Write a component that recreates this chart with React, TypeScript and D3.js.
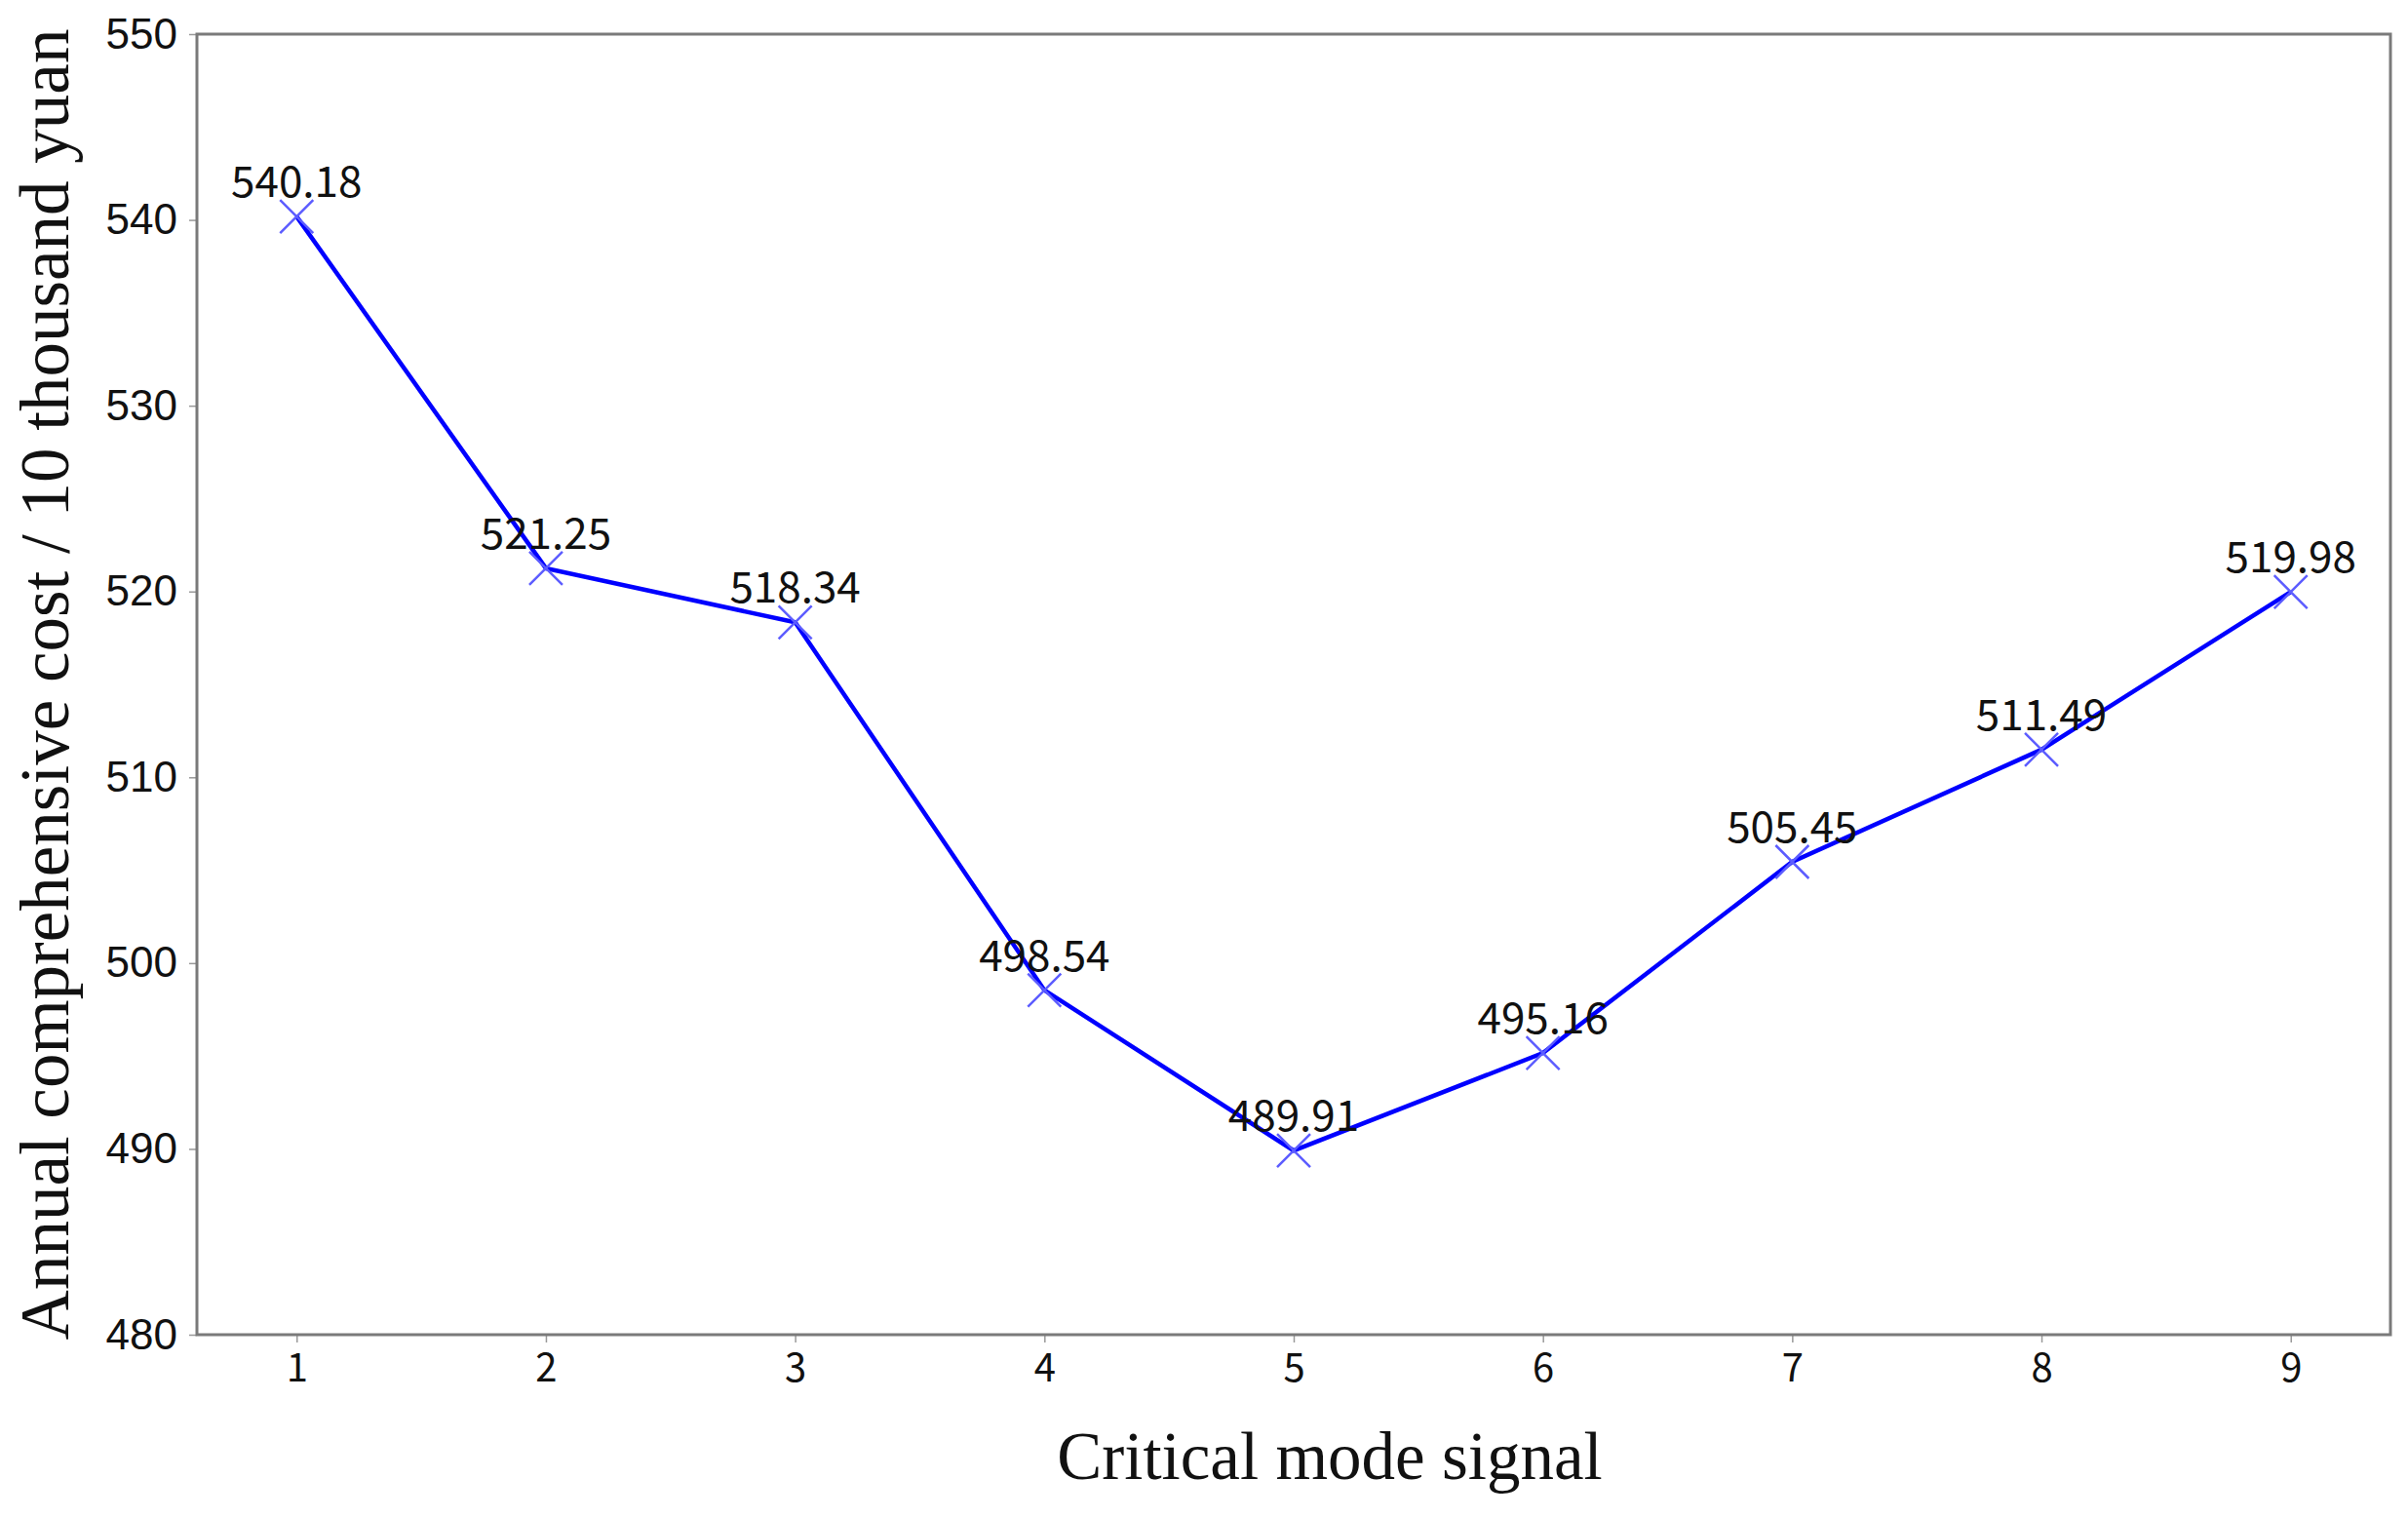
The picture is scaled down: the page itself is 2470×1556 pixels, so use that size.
import React, { useEffect, useRef } from "react";
import * as d3 from "d3";

// critical mode signal (x) and annual comprehensive cost in 10k yuan (y)
const modeSignals = [1, 2, 3, 4, 5, 6, 7, 8, 9];
const annualCost = [540.18, 521.25, 518.34, 498.54, 489.91, 495.16, 505.45, 511.49, 519.98];
const yTicks = [480, 490, 500, 510, 520, 530, 540, 550];

const xTitle = "Critical mode signal";
const yTitle = "Annual comprehensive cost / 10 thousand yuan";

export default function App() {
  const svgRef = useRef<SVGSVGElement>(null);

  useEffect(() => {
    document.body.style.margin = "0";
    const totalWidth = 2470, totalHeight = 1556;
    const margin = { top: 35, right: 18, bottom: 187, left: 202 };
    const width = totalWidth - margin.left - margin.right;
    const height = totalHeight - margin.top - margin.bottom;

    const root = d3.select(svgRef.current)
      .attr("width", totalWidth)
      .attr("height", totalHeight);
    root.selectAll("*").remove();
    root.append("rect").attr("width", totalWidth).attr("height", totalHeight).attr("fill", "#fff");

    const svg = root.append("g")
      .attr("transform", "translate(" + margin.left + "," + margin.top + ")");

    const xScale = d3.scaleLinear().domain([0.6, 9.4]).range([0, width]);
    const yScale = d3.scaleLinear().domain([480, 550]).range([height, 0]);

    // x axis
    const xAxis = svg.append("g")
      .attr("transform", "translate(0," + height + ")")
      .call(d3.axisBottom(xScale).tickValues(modeSignals).tickSize(8).tickPadding(12).tickFormat(d3.format("d")));
    xAxis.select(".domain").remove();
    xAxis.selectAll(".tick line").attr("stroke", "#999").attr("stroke-width", 1.5);
    xAxis.selectAll(".tick text")
      .attr("font-family", "'Noto Sans CJK SC', 'DejaVu Sans', sans-serif")
      .attr("font-size", 40)
      .attr("fill", "#111");

    // y axis
    const yAxis = svg.append("g")
      .call(d3.axisLeft(yScale).tickValues(yTicks).tickSize(8).tickPadding(12));
    yAxis.select(".domain").remove();
    yAxis.selectAll(".tick line").attr("stroke", "#999").attr("stroke-width", 1.5);
    yAxis.selectAll(".tick text")
      .attr("font-family", "'Liberation Sans Narrow', 'Liberation Sans', Arial, sans-serif")
      .attr("font-size", 44)
      .attr("fill", "#111");

    // frame
    svg.append("rect")
      .attr("width", width)
      .attr("height", height)
      .attr("fill", "none")
      .attr("stroke", "#7a7a7a")
      .attr("stroke-width", 3);

    const line = d3.line<number>()
      .x((d, i) => xScale(modeSignals[i]))
      .y((d) => yScale(d));

    svg.append("path")
      .datum(annualCost)
      .attr("d", line)
      .attr("fill", "none")
      .attr("stroke", "#0000ff")
      .attr("stroke-width", 4.5);

    // x markers
    const s = 17;
    svg.append("g").selectAll("path")
      .data(annualCost)
      .join("path")
      .attr("d", (d, i) => {
        const cx = xScale(modeSignals[i]), cy = yScale(d);
        return `M${cx - s},${cy - s}L${cx + s},${cy + s}M${cx - s},${cy + s}L${cx + s},${cy - s}`;
      })
      .attr("stroke", "#5c5cff")
      .attr("stroke-width", 2.5)
      .attr("fill", "none");

    // value labels
    svg.append("g").selectAll("text")
      .data(annualCost)
      .join("text")
      .attr("x", (d, i) => xScale(modeSignals[i]))
      .attr("y", (d) => yScale(d) - 20)
      .attr("text-anchor", "middle")
      .attr("font-family", "'Noto Sans CJK SC', 'DejaVu Sans', sans-serif")
      .attr("font-size", 44)
      .attr("fill", "#111")
      .text((d) => d.toFixed(2));

    // axis titles
    root.append("text")
      .attr("x", 1364)
      .attr("y", 1517)
      .attr("text-anchor", "middle")
      .attr("font-family", "'Liberation Serif', 'DejaVu Serif', serif")
      .attr("font-size", 69)
      .attr("fill", "#111")
      .text(xTitle);

    root.append("text")
      .attr("transform", "translate(70," + (margin.top + height / 2) + ") rotate(-90)")
      .attr("text-anchor", "middle")
      .attr("font-family", "'Liberation Serif', 'DejaVu Serif', serif")
      .attr("font-size", 71)
      .attr("fill", "#111")
      .text(yTitle);
  }, []);

  return <svg ref={svgRef} />;
}
